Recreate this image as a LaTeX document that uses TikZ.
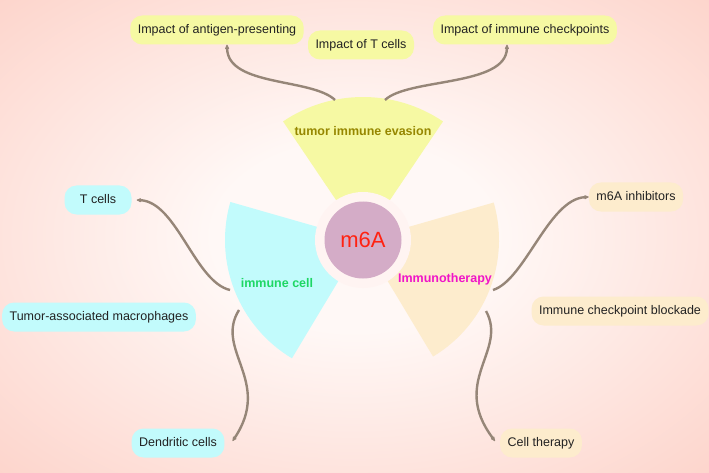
\documentclass[tikz,border=0pt]{standalone}
\usepackage{fontspec}
\setmainfont{Liberation Sans}
\usepackage{xcolor}
\usetikzlibrary{arrows.meta}
\usetikzlibrary{math}
\definecolor{mybgin}{RGB}{255,248,246}
\definecolor{mybgout}{RGB}{252,193,180}
\definecolor{myyellow}{RGB}{246,249,163}
\definecolor{mycyan}{RGB}{194,251,252}
\definecolor{myorange}{RGB}{253,236,205}
\definecolor{mypurple}{RGB}{212,172,199}
\definecolor{myring}{RGB}{255,244,242}
\definecolor{mylink}{RGB}{150,134,120}
\definecolor{myolive}{RGB}{150,135,0}
\definecolor{mygreen}{RGB}{30,215,100}
\definecolor{mymagenta}{RGB}{240,20,200}
\definecolor{myred}{RGB}{255,34,17}
\definecolor{mytext}{RGB}{34,34,34}
\pgfdeclareradialshading{bgglow}{\pgfpoint{0bp}{0bp}}{color(0bp)=(mybgin); color(10bp)=(mybgin); color(50bp)=(mybgout)}

\begin{document}
\begin{tikzpicture}[x=1pt,y=-1pt,
  leaf/.style={rounded corners=12pt, inner xsep=7.5pt, minimum width=67pt, minimum height=29pt,
    text height=9pt, text depth=2.5pt, text=mytext, font=\fontsize{12.5}{15}\selectfont},
  branch/.style={font=\bfseries\fontsize{12.5}{15}\selectfont},
  link/.style={color=mylink, line width=2.4pt, -{Latex[length=6pt,width=5pt,round]}}]
\tikzmath{
\Rin=48;
\Ry=143;
\Rc=138;
\Ro=136;
}
\useasboundingbox (0,0) rectangle (709,473);
\shade[shading=bgglow] (0,0) rectangle (709,473);

\coordinate (C) at (363,240);

%the three sectors:
\fill[color=myyellow] (C) -- ++(-124:\Ry) arc (-124:-56:\Ry) -- cycle;
\fill[color=mycyan] (C) -- ++(121:\Rc) arc (121:196:\Rc) -- cycle;
\fill[color=myorange] (C) -- ++(-16:\Ro) arc (-16:59:\Ro) -- cycle;

%ring and hub:
\fill[color=myring] (C) circle (\Rin);
\node[circle, fill=mypurple, minimum size=77pt, inner sep=0pt, text=myred,
  font=\fontsize{22}{26}\selectfont] (m6a) at (C) {m6A};

\node[branch, text=myolive] (evasion) at (363,131) {tumor immune evasion};
\node[branch, text=mygreen] (immcell) at (277,283) {immune cell};
\node[branch, text=mymagenta] (immther) at (445,279) {Immunotherapy};

%the leaves:
\node[leaf, fill=myyellow] (antigen) at (217,30) {Impact of antigen-presenting};
\node[leaf, fill=myyellow] (tcimpact) at (361,45) {Impact of T cells};
\node[leaf, fill=myyellow] (checkp) at (525,30) {Impact of immune checkpoints};
\node[leaf, fill=mycyan] (tcells) at (98,200) {T cells};
\node[leaf, fill=mycyan] (macro) at (99,317) {Tumor-associated macrophages};
\node[leaf, fill=mycyan] (dendr) at (178,443) {Dendritic cells};
\node[leaf, fill=myorange] (inhib) at (636,197) {m6A inhibitors};
\node[leaf, fill=myorange] (blockade) at (620,311) {Immune checkpoint blockade};
\node[leaf, fill=myorange] (celltx) at (541,443) {Cell therapy};

%where the links leave the sectors:
\coordinate (ev1) at (335,100);
\coordinate (ev2) at (385,100);
\coordinate (ic1) at (230,290);
\coordinate (ic2) at (239,310);
\coordinate (it1) at (493,290);
\coordinate (it2) at (486,311);

\draw[link] (ev1) .. controls +(-23,-22) and +(1,42) .. ([xshift=10pt]antigen.south);
\draw[link] (ev2) .. controls +(23,-22) and +(-1,42) .. ([xshift=-18pt]checkp.south);
\draw[link] (ic1) .. controls +(-35,-8) and +(40,2) .. ([xshift=5pt]tcells.east);
\draw[link] (ic2) .. controls +(-25,40) and +(40,-60) .. ([xshift=8pt,yshift=2pt]dendr.east);
\draw[link] (it1) .. controls +(32,-10) and +(-40,2) .. (inhib.west);
\draw[link] (it2) .. controls +(22,40) and +(-45,-60) .. ([xshift=-5pt,yshift=2pt]celltx.west);
\end{tikzpicture}
\end{document}
